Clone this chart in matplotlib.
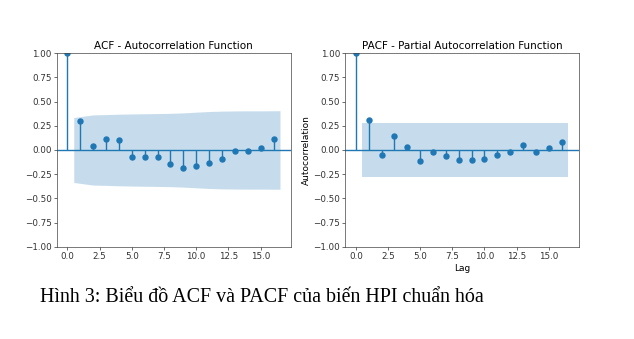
import numpy as np
import matplotlib
matplotlib.use("Agg")
import matplotlib.pyplot as plt

# values
lags = np.arange(17)
acf_vals = [1.0, 0.30, 0.04, 0.116, 0.10, -0.068, -0.075, -0.068, -0.147,
            -0.185, -0.164, -0.134, -0.092, -0.007, -0.007, 0.017, 0.116]
acf_band = [0.336, 0.363, 0.366, 0.370, 0.373, 0.375, 0.377, 0.379,
            0.384, 0.391, 0.398, 0.402, 0.404, 0.405, 0.405, 0.406]
pacf_vals = [1.0, 0.306, -0.052, 0.141, 0.027, -0.110, -0.024, -0.065, -0.100,
             -0.100, -0.089, -0.052, -0.021, 0.048, -0.024, 0.021, 0.082]
pacf_band = [0.28] * 16

titles = ["ACF - Autocorrelation Function", "PACF - Partial Autocorrelation Function"]
caption = "Hình 3: Biểu đồ ACF và PACF của biến HPI chuẩn hóa"

blue = "#1f77b4"
fig = plt.figure(figsize=(6.34, 3.39), dpi=100)
ax1 = fig.add_axes([0.0894, 0.2723, 0.369, 0.5705])
ax2 = fig.add_axes([0.5446, 0.2723, 0.368, 0.5705])


def corr_plot(ax, vals, band, title):
    # band x goes from 0.5 to 16.5 like statsmodels
    bx = lags[1:].astype(float)
    bx[0] -= 0.5
    bx[-1] += 0.5
    band = np.array(band)
    ax.fill_between(bx, -band, band, color=blue, alpha=0.25, lw=0)
    ax.axhline(0, color=blue, lw=1)
    ax.vlines(lags, 0, vals, color=blue, lw=1)
    ax.plot(lags, vals, "o", color=blue, ms=3.6)
    ax.set_xlim(-0.825, 17.325)
    ax.set_ylim(-1, 1)
    ax.set_yticks(np.arange(-1, 1.01, 0.25))
    ax.set_xticks(np.arange(0, 16, 2.5))
    ax.tick_params(labelsize=6.3, length=2.2, width=0.5, pad=1.5, colors="#333333")
    for s in ax.spines.values():
        s.set_linewidth(0.5)
        s.set_color("#444444")
    ax.set_title(title, fontsize=7.5, pad=3)


corr_plot(ax1, acf_vals, acf_band, titles[0])
corr_plot(ax2, pacf_vals, pacf_band, titles[1])
ax2.set_ylabel("Autocorrelation", fontsize=6.5, labelpad=2)
ax2.set_xlabel("Lag", fontsize=6.5, labelpad=2)

fig.text(40 / 634, 1 - 298 / 339, caption, fontsize=14.4, family="Liberation Serif",
         va="center", ha="left")

fig.savefig("out.png", dpi=100)
